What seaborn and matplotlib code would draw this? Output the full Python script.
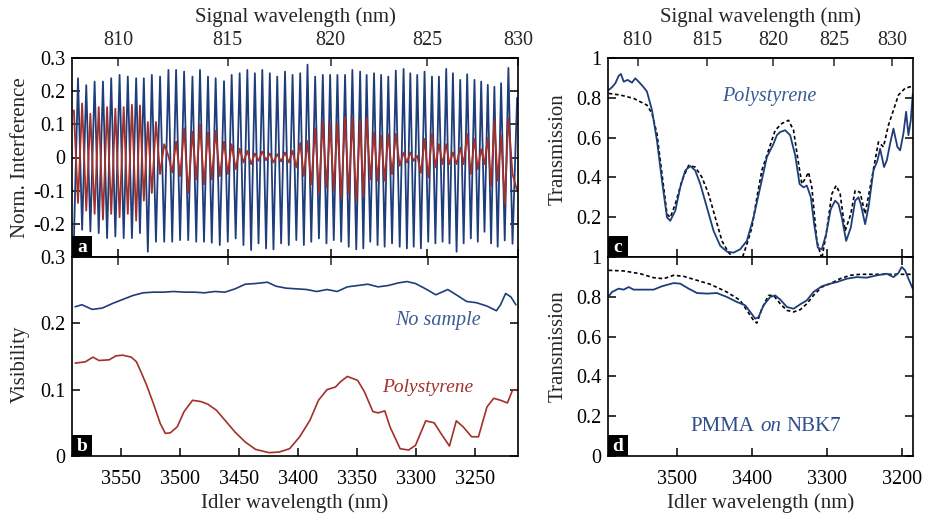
import numpy as np
import pandas as pd
import matplotlib.pyplot as plt
from matplotlib.patches import Rectangle
import seaborn as sns

# pump wavelength that links signal and idler (nm)
pump = 659.6

# ---- panel a: interference fringes, read as alternating extrema (idler nm) ----
fringe_idler = [
    3590.0, 3586.5, 3583.0, 3579.5, 3576.0, 3572.4, 3568.9, 3565.3, 3561.8, 3558.3,
    3554.8, 3551.2, 3547.7, 3544.2, 3540.7, 3537.1, 3533.9, 3530.6, 3527.2, 3523.8,
    3520.3, 3516.8, 3513.3, 3509.7, 3506.5, 3503.2, 3499.8, 3496.4, 3492.9, 3489.3,
    3486.1, 3482.9, 3479.5, 3476.1, 3472.9, 3469.6, 3466.1, 3462.5, 3459.3, 3456.0,
    3452.6, 3449.2, 3446.0, 3442.7, 3439.5, 3436.3, 3433.2, 3430.0, 3426.8, 3423.6,
    3420.5, 3417.3, 3414.0, 3410.7, 3407.5, 3404.3, 3401.1, 3397.8, 3394.7, 3391.6,
    3388.4, 3385.1, 3381.9, 3378.6, 3375.5, 3372.4, 3369.3, 3366.2, 3363.0, 3359.7,
    3356.6, 3353.5, 3350.2, 3346.9, 3344.2, 3341.4, 3338.3, 3335.1, 3332.1, 3329.1,
    3326.1, 3323.0, 3319.8, 3316.6, 3313.3, 3310.0, 3307.2, 3304.3, 3301.4, 3298.4,
    3295.3, 3292.2, 3289.1, 3285.9, 3283.0, 3280.0, 3276.9, 3273.8, 3271.0, 3268.1,
    3265.0, 3261.9, 3259.0, 3256.0, 3252.9, 3249.8, 3247.0, 3244.1, 3241.3, 3238.5,
    3235.7, 3232.9, 3230.1, 3227.2, 3224.1, 3221.0, 3217.5, 3213.6,
]
fringe_nosample = [
    -0.25,
    0.239, -0.218, 0.218, -0.223, 0.229, -0.228, 0.229, -0.243, 0.239, -0.238,
    0.249, -0.243, 0.244, -0.243, 0.239, -0.228, 0.239, -0.284, 0.249, -0.254,
    0.244, -0.254, 0.264, -0.254, 0.264, -0.249, 0.259, -0.249, 0.244, -0.254,
    0.264, -0.254, 0.244, -0.257, 0.239, -0.264, 0.23, -0.254, 0.249, -0.244,
    0.254, -0.264, 0.264, -0.279, 0.254, -0.259, 0.264, -0.274, 0.254, -0.277,
    0.244, -0.259, 0.259, -0.264, 0.249, -0.249, 0.254, -0.264, 0.28, -0.254,
    0.244, -0.244, 0.249, -0.259, 0.249, -0.249, 0.249, -0.254, 0.249, -0.269,
    0.264, -0.277, 0.259, -0.274, 0.249, -0.254, 0.254, -0.264, 0.249, -0.269,
    0.244, -0.259, 0.262, -0.269, 0.267, -0.274, 0.254, -0.269, 0.249, -0.274,
    0.259, -0.254, 0.244, -0.259, 0.244, -0.254, 0.267, -0.259, 0.254, -0.284,
    0.234, -0.259, 0.251, -0.244, 0.234, -0.254, 0.229, -0.224, 0.219, -0.259,
    0.213, -0.269, 0.224, -0.25, 0.27, -0.26,
    0.18,
]
fringe_poly = [
    0.142,
    -0.137, 0.163, -0.16, 0.132, -0.17, 0.152, -0.187, 0.152, -0.17, 0.147,
    -0.18, 0.152, -0.17, 0.159, -0.19, 0.157, -0.13, 0.107, -0.107, 0.107,
    -0.05, 0.04, 0.005, -0.045, 0.048, -0.056, 0.088, -0.107, 0.078, -0.066,
    0.10, -0.081, 0.076, -0.066, 0.08, -0.056, 0.048, -0.05, 0.04, -0.035,
    0.027, -0.015, 0.02, -0.02, 0.012, -0.01, 0.018, -0.008, 0.012, -0.015,
    0.01, -0.012, 0.015, -0.015, 0.02, -0.03, 0.044, -0.056, 0.05, -0.081,
    0.088, -0.107, 0.109, -0.091, 0.102, -0.10, 0.102, -0.122, 0.122, -0.11,
    0.117, -0.132, 0.112, -0.117, 0.119, -0.066, 0.076, -0.07, 0.066, -0.07,
    0.07, -0.05, 0.071, -0.025, 0.015, -0.015, 0.015, -0.01, 0.005, -0.046,
    0.056, -0.06, 0.071, -0.03, 0.04, -0.02, 0.04, -0.02, 0.015, -0.02,
    0.03, -0.02, 0.071, -0.05, 0.056, -0.035, 0.025, -0.02, 0.06, -0.086,
    0.112, -0.07, 0.066, -0.14, 0.12, -0.05,
    -0.10,
]

# ---- panel b: visibility ----
vis_ns_idler = [3588.9, 3583.2, 3574.5, 3565.9, 3557.2, 3548.6, 3539.9, 3531.3, 3522.6, 3513.9,
                3505.3, 3496.6, 3488.0, 3479.3, 3470.7, 3462.0, 3453.4, 3444.7, 3436.1, 3426.0,
                3418.8, 3410.1, 3401.5, 3392.8, 3384.2, 3375.5, 3366.8, 3358.2, 3349.5, 3340.9,
                3332.2, 3323.6, 3314.9, 3307.7, 3300.5, 3291.9, 3283.2, 3273.1, 3265.9, 3257.2,
                3248.6, 3239.9, 3231.9, 3228.4, 3224.1, 3219.7, 3215.4]
vis_ns = [0.225, 0.228, 0.221, 0.223, 0.230, 0.236, 0.242, 0.246, 0.247, 0.247,
          0.248, 0.247, 0.247, 0.246, 0.248, 0.247, 0.252, 0.259, 0.260, 0.262,
          0.256, 0.253, 0.252, 0.251, 0.248, 0.251, 0.248, 0.255, 0.257, 0.259,
          0.255, 0.257, 0.261, 0.263, 0.260, 0.252, 0.243, 0.251, 0.243, 0.233,
          0.231, 0.226, 0.219, 0.228, 0.245, 0.240, 0.228]
vis_ps_idler = [3588.9, 3580.3, 3573.9, 3568.7, 3560.1, 3554.3, 3548.6, 3541.3, 3537.0, 3532.7,
                3528.4, 3522.6, 3516.8, 3512.5, 3508.2, 3502.4, 3496.6, 3489.4, 3482.2, 3476.4,
                3469.2, 3462.0, 3453.4, 3444.7, 3436.1, 3424.5, 3415.9, 3407.2, 3398.6, 3389.9,
                3382.7, 3375.5, 3368.3, 3364.0, 3358.2, 3349.5, 3343.8, 3336.6, 3332.2, 3326.5,
                3322.1, 3313.5, 3306.3, 3300.5, 3291.8, 3284.6, 3278.9, 3271.7, 3265.9, 3260.1,
                3252.9, 3247.1, 3239.9, 3234.2, 3228.4, 3222.6, 3218.3, 3215.4]
vis_ps = [0.140, 0.142, 0.149, 0.144, 0.145, 0.151, 0.152, 0.149, 0.142, 0.125,
          0.107, 0.079, 0.049, 0.034, 0.035, 0.044, 0.067, 0.084, 0.082, 0.078,
          0.069, 0.054, 0.036, 0.021, 0.010, 0.005, 0.006, 0.011, 0.029, 0.054,
          0.084, 0.100, 0.104, 0.112, 0.120, 0.114, 0.097, 0.067, 0.065, 0.068,
          0.044, 0.011, 0.009, 0.016, 0.053, 0.050, 0.034, 0.015, 0.053, 0.044,
          0.029, 0.029, 0.074, 0.087, 0.084, 0.080, 0.099, 0.100]

# ---- panel c: polystyrene transmission ----
ps_meas_idler = [3591.1, 3586.7, 3582.2, 3577.8, 3574.7, 3571.1, 3565.8, 3560.0, 3555.6, 3551.1,
                 3544.4, 3540.0, 3533.3, 3526.7, 3520.0, 3513.3, 3508.9, 3502.2, 3495.6, 3488.9,
                 3482.2, 3475.6, 3468.9, 3460.0, 3451.1, 3442.2, 3433.3, 3424.4, 3415.6, 3406.7,
                 3397.8, 3388.9, 3380.0, 3371.1, 3366.7, 3362.2, 3355.6, 3348.9, 3342.2, 3336.4,
                 3331.1, 3326.7, 3321.3, 3316.9, 3312.0, 3306.7, 3300.9, 3294.7, 3288.9, 3284.4,
                 3280.0, 3274.2, 3268.0, 3262.2, 3257.8, 3254.7, 3248.9, 3244.4, 3237.8, 3232.4,
                 3228.9, 3223.6, 3220.0, 3215.6, 3211.1, 3205.8, 3202.2, 3197.8, 3194.2, 3191.1,
                 3188.0, 3185.3]
ps_meas = [0.839, 0.853, 0.873, 0.91, 0.92, 0.881, 0.89, 0.876, 0.898, 0.881,
           0.853, 0.831, 0.738, 0.586, 0.384, 0.199, 0.182, 0.233, 0.35, 0.435,
           0.457, 0.435, 0.367, 0.249, 0.131, 0.056, 0.027, 0.022, 0.039, 0.081,
           0.199, 0.35, 0.502, 0.569, 0.612, 0.628, 0.637, 0.612, 0.511, 0.367,
           0.35, 0.359, 0.30, 0.165, 0.047, 0.039, 0.115, 0.241, 0.283, 0.266,
           0.199, 0.081, 0.148, 0.283, 0.30, 0.266, 0.165, 0.249, 0.435, 0.485,
           0.544, 0.452, 0.485, 0.569, 0.645, 0.553, 0.536, 0.62, 0.73, 0.612,
           0.687, 0.82]
ps_model_idler = [3591.1, 3575.6, 3557.8, 3540.0, 3533.3, 3526.7, 3520.0, 3513.3, 3508.9, 3502.2,
                  3493.3, 3484.4, 3475.6, 3466.7, 3457.8, 3448.9, 3440.0, 3431.1, 3422.2, 3413.3,
                  3406.7, 3400.0, 3393.3, 3386.7, 3377.8, 3368.9, 3360.0, 3351.1, 3344.4, 3339.1,
                  3333.3, 3328.9, 3324.4, 3320.0, 3313.3, 3306.7, 3300.9, 3293.3, 3287.6, 3282.2,
                  3275.6, 3268.0, 3262.2, 3255.6, 3248.9, 3242.2, 3235.6, 3231.1, 3224.4, 3217.8,
                  3211.1, 3204.4, 3195.6, 3185.3]
ps_model = [0.822, 0.814, 0.797, 0.763, 0.721, 0.62, 0.418, 0.216, 0.199, 0.266,
            0.384, 0.46, 0.452, 0.401, 0.317, 0.199, 0.081, 0.022, -0.01, -0.01,
            0.064, 0.148, 0.30, 0.435, 0.536, 0.637, 0.671, 0.687, 0.637, 0.502,
            0.367, 0.393, 0.426, 0.35, 0.081, -0.01, 0.115, 0.317, 0.359, 0.317,
            0.131, 0.216, 0.334, 0.325, 0.216, 0.35, 0.485, 0.578, 0.553, 0.662,
            0.738, 0.814, 0.848, 0.859]

# ---- panel d: PMMA on NBK7 transmission ----
pm_meas_idler = [3591.1, 3586.7, 3577.8, 3571.1, 3564.4, 3557.8, 3544.4, 3531.1, 3520.0, 3504.4,
                 3495.6, 3484.4, 3473.3, 3460.0, 3446.7, 3433.3, 3420.0, 3408.9, 3402.2, 3395.6,
                 3391.1, 3384.4, 3375.6, 3368.9, 3362.2, 3353.3, 3344.4, 3335.6, 3326.7, 3317.8,
                 3306.7, 3295.6, 3286.7, 3273.3, 3260.0, 3246.7, 3233.3, 3220.0, 3211.1, 3204.4,
                 3200.0, 3195.6, 3191.1, 3185.3]
pm_meas = [0.802, 0.824, 0.841, 0.836, 0.849, 0.836, 0.836, 0.836, 0.853, 0.869,
           0.866, 0.841, 0.819, 0.816, 0.819, 0.799, 0.774, 0.757, 0.724, 0.690,
           0.698, 0.757, 0.799, 0.807, 0.786, 0.749, 0.740, 0.762, 0.782, 0.824,
           0.853, 0.866, 0.874, 0.891, 0.899, 0.896, 0.908, 0.916, 0.899, 0.920,
           0.950, 0.933, 0.891, 0.841]
pm_model_idler = [3591.1, 3571.1, 3548.9, 3531.1, 3517.8, 3504.4, 3491.1, 3473.3, 3455.6, 3433.3,
                  3415.6, 3406.7, 3397.8, 3393.3, 3386.7, 3377.8, 3371.1, 3362.2, 3353.3, 3344.4,
                  3335.6, 3326.7, 3317.8, 3306.7, 3295.6, 3282.2, 3268.9, 3255.6, 3237.8, 3220.0,
                  3202.2, 3185.3]
pm_model = [0.933, 0.930, 0.916, 0.896, 0.891, 0.908, 0.903, 0.883, 0.863, 0.824,
            0.782, 0.732, 0.682, 0.668, 0.740, 0.807, 0.807, 0.765, 0.732, 0.724,
            0.735, 0.765, 0.807, 0.849, 0.866, 0.891, 0.908, 0.913, 0.913, 0.913,
            0.913, 0.913]

signal_ticks = [810, 815, 820, 825, 830]

BLUE = "#1f3d7a"
RED = "#a3302a"
DOTS = (0, (2.2, 1.6))

sns.set_style("ticks")
plt.rcParams["font.family"] = ["Liberation Serif", "DejaVu Serif"]
plt.rcParams["axes.linewidth"] = 1.2


def convert(w):
    # energy conservation: 1/pump = 1/signal + 1/idler (same form both ways)
    w = np.asarray(w, dtype=float)
    with np.errstate(divide="ignore", invalid="ignore"):
        return 1.0 / (1.0 / pump - 1.0 / w)


def style_axis(ax):
    ax.tick_params(axis="both", direction="in", length=6, width=1.1,
                   labelsize=14.5, right=True, colors="black")
    ax.tick_params(axis="y", pad=5)
    for s in ax.spines.values():
        s.set_color("black")
    ax.set_xlabel("")
    ax.set_ylabel("")


def letter(ax, txt, w_px, h_px, ax_w_px, ax_h_px):
    ax.add_patch(Rectangle((0, 0), w_px / ax_w_px, h_px / ax_h_px, transform=ax.transAxes,
                           facecolor="black", edgecolor="none", zorder=6, clip_on=False))
    ax.text(w_px / ax_w_px / 2, h_px / ax_h_px / 2 - 0.005, txt, transform=ax.transAxes,
            color="white", fontsize=14, fontweight="bold", ha="center", va="center", zorder=7)


W, H = 927, 521
fig = plt.figure(figsize=(9.27, 5.21), dpi=100)

ab_left, ab_w = 72 / W, 446 / W
cd_left, cd_w = 608 / W, 305 / W
top_bot, top_h = (H - 257) / H, 199 / H
bot_bot, bot_h = (H - 456) / H, 199 / H

ax_a = fig.add_axes([ab_left, top_bot, ab_w, top_h])
ax_b = fig.add_axes([ab_left, bot_bot, ab_w, bot_h])
ax_c = fig.add_axes([cd_left, top_bot, cd_w, top_h])
ax_d = fig.add_axes([cd_left, bot_bot, cd_w, bot_h])

ab_lim = (3591.6, 3213.6)
cd_lim = (3592.0, 3185.0)
sig_idler = convert(signal_ticks)

# ---------------- panel a ----------------
df_a = pd.DataFrame({"idler": fringe_idler, "ref": fringe_nosample, "poly": fringe_poly})
sns.lineplot(data=df_a, x="idler", y="ref", ax=ax_a, color=BLUE, lw=1.3,
             estimator=None, sort=False)
sns.lineplot(data=df_a, x="idler", y="poly", ax=ax_a, color=RED, lw=1.3,
             estimator=None, sort=False)
ax_a.set_xlim(*ab_lim)
ax_a.set_ylim(-0.3, 0.3)
style_axis(ax_a)
ax_a.set_yticks([-0.3, -0.2, -0.1, 0, 0.1, 0.2, 0.3])
ax_a.set_yticklabels(["", "-0.2", "-0.1", "0", "0.1", "0.2", "0.3"])
ax_a.set_xticks(sig_idler)
ax_a.tick_params(axis="x", labelbottom=False)
sec_a = ax_a.secondary_xaxis("top", functions=(convert, convert))
sec_a.set_xticks(signal_ticks)
sec_a.set_xticklabels([str(t) for t in signal_ticks])
sec_a.tick_params(direction="in", length=6, width=1.1, labelsize=14.5, pad=6)
sec_a.set_xlabel("Signal wavelength (nm)", fontsize=15, labelpad=6)
ax_a.set_ylabel("Norm. Interference", fontsize=15)
ax_a.yaxis.set_label_coords(-0.094, 0.5)
letter(ax_a, "a", 20, 21, 446, 199)

# ---------------- panel b ----------------
sns.lineplot(x=vis_ns_idler, y=vis_ns, ax=ax_b, color=BLUE, lw=1.2, estimator=None, sort=False)
sns.lineplot(x=vis_ps_idler, y=vis_ps, ax=ax_b, color=RED, lw=1.2, estimator=None, sort=False)
ax_b.set_xlim(*ab_lim)
ax_b.set_ylim(0, 0.3)
style_axis(ax_b)
ax_b.set_yticks([0, 0.1, 0.2, 0.3])
ax_b.set_yticklabels(["0", "0.1", "0.2", "0.3"])
ax_b.set_xticks([3550, 3500, 3450, 3400, 3350, 3300, 3250])
ax_b.tick_params(axis="x", pad=10)
sec_b = ax_b.secondary_xaxis("top", functions=(convert, convert))
sec_b.set_xticks(signal_ticks)
sec_b.tick_params(direction="in", length=6, width=1.1, labeltop=False)
ax_b.set_xlabel("Idler wavelength (nm)", fontsize=15)
ax_b.set_ylabel("Visibility", fontsize=15)
ax_b.yaxis.set_label_coords(-0.094, 0.46)
ax_b.xaxis.set_label_coords(0.5, -0.185)
ax_b.text(3281.7, 0.205, "No sample", color="#3a5a95", fontsize=14.5, style="italic",
          ha="center", va="center")
ax_b.text(3290.4, 0.104, "Polystyrene", color=RED, fontsize=14, style="italic",
          ha="center", va="center")
letter(ax_b, "b", 20, 21, 446, 199)

# ---------------- panel c ----------------
sns.lineplot(x=ps_model_idler, y=ps_model, ax=ax_c, color="black", lw=1.2,
             linestyle=DOTS, estimator=None, sort=False)
sns.lineplot(x=ps_meas_idler, y=ps_meas, ax=ax_c, color=BLUE, lw=1.3, estimator=None, sort=False)
ax_c.set_xlim(*cd_lim)
ax_c.set_ylim(0, 1)
style_axis(ax_c)
ax_c.set_yticks([0, 0.2, 0.4, 0.6, 0.8, 1.0])
ax_c.set_yticklabels(["", "0.2", "0.4", "0.6", "0.8", "1"])
ax_c.set_xticks([3500, 3400, 3300, 3200])
ax_c.tick_params(axis="x", labelbottom=False)
sec_c = ax_c.secondary_xaxis("top", functions=(convert, convert))
sec_c.set_xticks(signal_ticks)
sec_c.set_xticklabels([str(t) for t in signal_ticks])
sec_c.tick_params(direction="in", length=6, width=1.1, labelsize=14.5, pad=6)
sec_c.set_xlabel("Signal wavelength (nm)", fontsize=15, labelpad=6)
ax_c.set_ylabel("Transmission", fontsize=15)
ax_c.yaxis.set_label_coords(-0.131, 0.54)
ax_c.text(3376.4, 0.805, "Polystyrene", color="#3a5a95", fontsize=14.5, style="italic",
          ha="center", va="center")
letter(ax_c, "c", 20, 21, 305, 199)

# ---------------- panel d ----------------
sns.lineplot(x=pm_model_idler, y=pm_model, ax=ax_d, color="black", lw=1.2,
             linestyle=DOTS, estimator=None, sort=False)
sns.lineplot(x=pm_meas_idler, y=pm_meas, ax=ax_d, color=BLUE, lw=1.3, estimator=None, sort=False)
ax_d.set_xlim(*cd_lim)
ax_d.set_ylim(0, 1)
style_axis(ax_d)
ax_d.set_yticks([0, 0.2, 0.4, 0.6, 0.8, 1.0])
ax_d.set_yticklabels(["0", "0.2", "0.4", "0.6", "0.8", "1"])
ax_d.set_xticks([3500, 3400, 3300, 3200])
ax_d.tick_params(axis="x", top=True, pad=10)
ax_d.set_xlabel("Idler wavelength (nm)", fontsize=15)
ax_d.xaxis.set_label_coords(0.5, -0.185)
ax_d.set_ylabel("Transmission", fontsize=15)
ax_d.yaxis.set_label_coords(-0.131, 0.55)
ax_d.annotate("PMMA", xy=(3375.0, 0.146), xytext=(-11.5, 0), textcoords="offset points",
              color="#2f4f8c", fontsize=15, ha="right", va="center")
ax_d.annotate("on", xy=(3375.0, 0.146), color="#2f4f8c", fontsize=15, style="italic",
              ha="center", va="center")
ax_d.annotate("NBK7", xy=(3375.0, 0.146), xytext=(11.5, 0), textcoords="offset points",
              color="#2f4f8c", fontsize=15, ha="left", va="center")
letter(ax_d, "d", 20, 21, 305, 199)

fig.savefig("out.png", dpi=100)
